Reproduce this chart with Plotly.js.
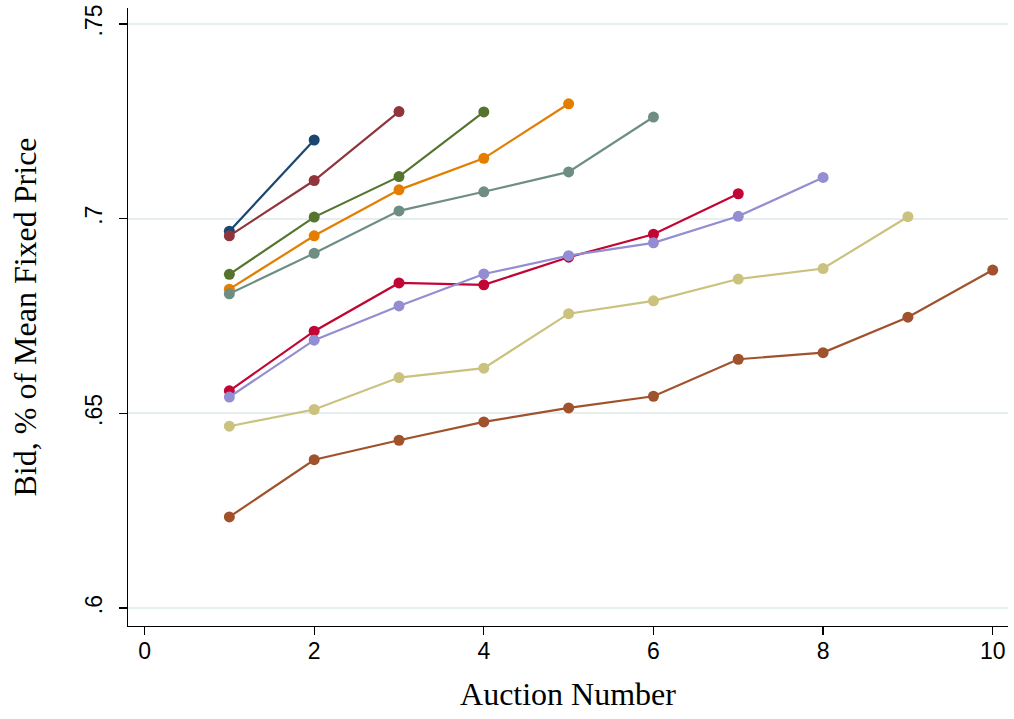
<!DOCTYPE html>
<html>
<head>
<meta charset="utf-8">
<script src="https://cdn.plot.ly/plotly-3.0.1.min.js"></script>
<style>
  html, body { margin: 0; padding: 0; background: #ffffff; }
  #chart { width: 1014px; height: 719px; }
</style>
</head>
<body>
<div id="chart"></div>
<script>
// Average bid (share of mean fixed price) by auction number, one line per group
const xTickVals = [0, 2, 4, 6, 8, 10];
const yTickVals = [0.6, 0.65, 0.7, 0.75];
const yTickText = ['.6', '.65', '.7', '.75'];

const series1 = [0.6968, 0.7202];
const series2 = [0.6956, 0.7098, 0.7275];
const series3 = [0.6857, 0.7004, 0.7108, 0.7274];
const series4 = [0.6819, 0.6956, 0.7074, 0.7155, 0.7295];
const series5 = [0.6807, 0.6911, 0.7020, 0.7069, 0.7120, 0.7261];
const series6 = [0.6558, 0.6711, 0.6835, 0.6830, 0.6901, 0.6960, 0.7064];
const series7 = [0.6542, 0.6688, 0.6776, 0.6858, 0.6905, 0.6938, 0.7006, 0.7106];
const series8 = [0.6467, 0.6510, 0.6592, 0.6616, 0.6756, 0.6789, 0.6845, 0.6872, 0.7005];
const series9 = [0.6234, 0.6381, 0.6431, 0.6478, 0.6514, 0.6544, 0.6639, 0.6656, 0.6747, 0.6868];

const allSeries = [series1, series2, series3, series4, series5, series6, series7, series8, series9];
const colors = ['#1a476f', '#90353b', '#55752f', '#e37e00', '#6e8e84',
                '#c10534', '#938dd2', '#cac27e', '#a0522d'];

const traces = allSeries.map((ys, i) => ({
  type: 'scatter',
  mode: 'lines+markers',
  x: ys.map((_, k) => k + 1),
  y: ys,
  line: { color: colors[i], width: 2.2 },
  marker: { color: colors[i], size: 11 },
  showlegend: false,
  hoverinfo: 'x+y'
}));

const tickFont = { family: 'Liberation Sans, Arial, sans-serif', size: 23, color: '#000000' };
const titleFont = { family: 'Liberation Serif, Times New Roman, serif', size: 32, color: '#000000' };

const layout = {
  width: 1014,
  height: 719,
  paper_bgcolor: '#ffffff',
  plot_bgcolor: '#ffffff',
  margin: { l: 128, r: 6, t: 8, b: 93 },
  showlegend: false,
  xaxis: {
    range: [-0.195, 10.18],
    tickvals: xTickVals,
    ticktext: xTickVals.map(String),
    ticks: 'outside',
    ticklen: 8,
    tickwidth: 1.3,
    tickcolor: '#000000',
    ticklabelstandoff: -4,
    showline: true,
    linecolor: '#000000',
    linewidth: 1.3,
    showgrid: false,
    zeroline: false,
    tickfont: tickFont,
    title: { text: 'Auction Number', font: titleFont, standoff: 19 },
    automargin: false
  },
  yaxis: {
    range: [0.5954, 0.7541],
    tickvals: yTickVals,
    ticktext: yTickText,
    tickangle: -90,
    ticks: 'outside',
    ticklen: 8,
    tickwidth: 1.3,
    tickcolor: '#000000',
    ticklabelstandoff: 8,
    showline: true,
    linecolor: '#000000',
    linewidth: 1.3,
    showgrid: true,
    gridcolor: '#e6eef0',
    gridwidth: 2,
    zeroline: false,
    tickfont: tickFont,
    title: { text: 'Bid, % of Mean Fixed Price', font: titleFont, standoff: 34 },
    automargin: false
  }
};

Plotly.newPlot('chart', traces, layout, { displayModeBar: false, staticPlot: true });
</script>
</body>
</html>
